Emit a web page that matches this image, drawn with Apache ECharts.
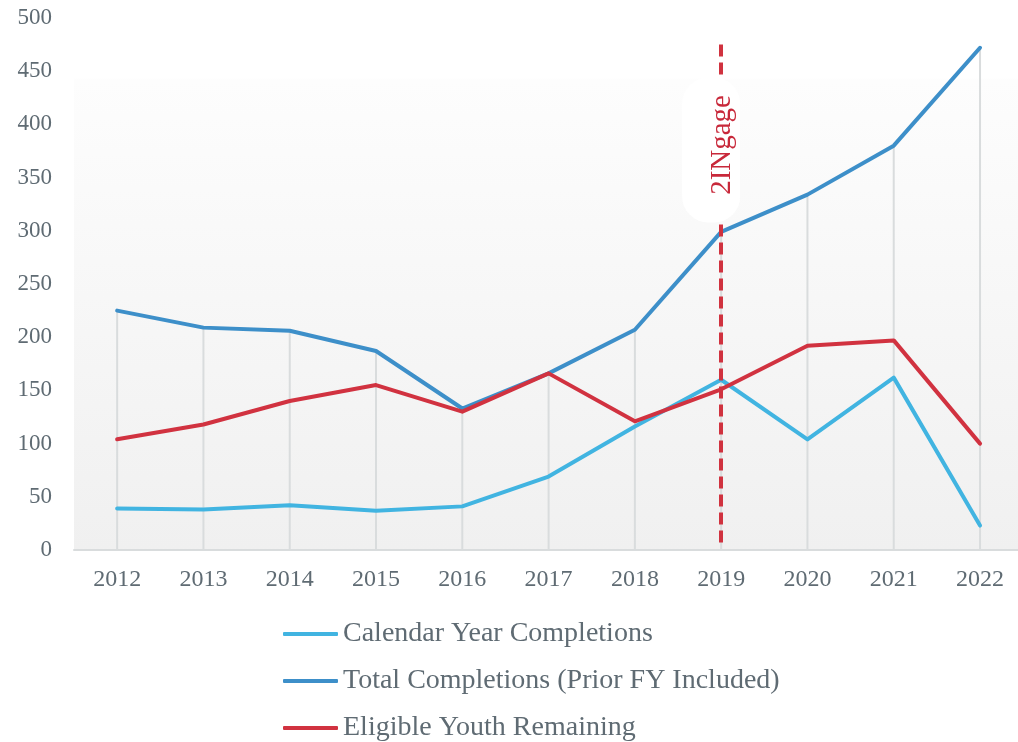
<!DOCTYPE html>
<html>
<head>
<meta charset="utf-8">
<script src="https://cdn.jsdelivr.net/npm/echarts@6/dist/echarts.min.js"></script>
<style>
  html, body { margin: 0; padding: 0; background: #fff; }
  #chart { width: 1018px; height: 742px; }
</style>
</head>
<body>
<div id="chart"></div>
<script>
var years = [2012, 2013, 2014, 2015, 2016, 2017, 2018, 2019, 2020, 2021, 2022]
var calendarCompletions = [39, 38, 42, 37, 41, 69, 116, 160, 104, 162, 23]
var totalCompletions = [225, 209, 206, 187, 133, 166, 207, 299, 334, 380, 472]
var eligibleRemaining = [104, 118, 140, 155, 130, 166, 121, 151, 192, 197, 100]
var yTicks = [0, 50, 100, 150, 200, 250, 300, 350, 400, 450, 500]

function pairs (values) {
  return years.map(function (y, i) { return [y, values[i]] })
}

// drop lines run from the highest point of each year down to the axis
var dropLines = years.map(function (y, i) {
  return [y, Math.max(calendarCompletions[i], totalCompletions[i], eligibleRemaining[i])]
})

var font = 'Liberation Serif'
var textColor = '#5f6b73'
// white pill behind the 2INgage note
var pill = 'path://M26,0 H32 A26,26 0 0 1 58,26 V119 A26,26 0 0 1 32,145 H26 A26,26 0 0 1 0,119 V26 A26,26 0 0 1 26,0 Z'

var chart = echarts.init(document.getElementById('chart'))
chart.setOption({
  backgroundColor: '#ffffff',
  animation: false,
  grid: {
    left: 74,
    right: 0,
    top: 18,
    bottom: 192,
    show: true,
    borderWidth: 0,
    backgroundColor: new echarts.graphic.LinearGradient(0, 0, 0, 1, [
      { offset: 0, color: '#ffffff' },
      { offset: 0.112, color: '#ffffff' },
      { offset: 0.117, color: '#fdfdfd' },
      { offset: 1, color: '#f0f0f0' }
    ])
  },
  legend: {
    orient: 'vertical',
    left: 278,
    top: 615,
    height: 200,
    itemGap: 19,
    itemWidth: 55,
    itemHeight: 4,
    icon: 'roundRect',
    textStyle: { fontFamily: font, fontSize: 28, color: textColor },
    data: ['Calendar Year Completions', 'Total Completions (Prior FY Included)', 'Eligible Youth Remaining']
  },
  xAxis: {
    type: 'value',
    min: 2011.5,
    max: 2022.44,
    axisLine: { onZero: false, lineStyle: { color: '#d9dcdd', width: 2 } },
    axisTick: { show: false },
    splitLine: { show: false },
    axisLabel: {
      fontFamily: font, fontSize: 24, color: textColor, margin: 18,
      customValues: years,
      formatter: function (v) { return String(v) }
    }
  },
  yAxis: {
    type: 'value',
    min: 0,
    max: 500,
    interval: 50,
    axisLine: { show: false },
    axisTick: { show: false },
    splitLine: { show: false },
    axisLabel: {
      fontFamily: font, fontSize: 23, color: textColor, margin: 22,
      formatter: function (v) { return yTicks.indexOf(v) >= 0 ? String(v) : '' }
    }
  },
  series: [
    {
      name: 'drop',
      type: 'bar',
      barWidth: 2,
      silent: true,
      z: 1,
      itemStyle: { color: '#d9dcdd' },
      data: dropLines
    },
    {
      name: 'Calendar Year Completions',
      type: 'line',
      z: 3,
      symbol: 'none',
      lineStyle: { width: 4, color: '#41b4e1', cap: 'round', join: 'round' },
      itemStyle: { color: '#41b4e1' },
      data: pairs(calendarCompletions)
    },
    {
      name: 'Total Completions (Prior FY Included)',
      type: 'line',
      z: 3,
      symbol: 'none',
      lineStyle: { width: 4, color: '#3d8fc9', cap: 'round', join: 'round' },
      itemStyle: { color: '#3d8fc9' },
      data: pairs(totalCompletions),
      markLine: {
        silent: true,
        symbol: 'none',
        z: 4,
        lineStyle: { color: '#d0323f', width: 4, type: [12, 6] },
        label: { show: false },
        data: [[{ coord: [2019, 475] }, { coord: [2019, 5] }]]
      }
    },
    {
      name: 'Eligible Youth Remaining',
      type: 'line',
      z: 3,
      symbol: 'none',
      lineStyle: { width: 4, color: '#d13240', cap: 'round', join: 'round' },
      itemStyle: { color: '#d13240' },
      data: pairs(eligibleRemaining),
      markPoint: {
        silent: true,
        symbol: pill,
        symbolSize: [58, 145],
        symbolOffset: [-10, 0],
        symbolKeepAspect: false,
        z: 6,
        itemStyle: { color: '#ffffff' },
        label: {
          show: true,
          position: 'inside',
          rotate: 90,
          offset: [5, 11],
          formatter: '2INgage',
          fontFamily: font,
          fontSize: 29,
          color: '#c8283a'
        },
        data: [{ coord: [2019, 376] }]
      }
    }
  ]
})
</script>
</body>
</html>
